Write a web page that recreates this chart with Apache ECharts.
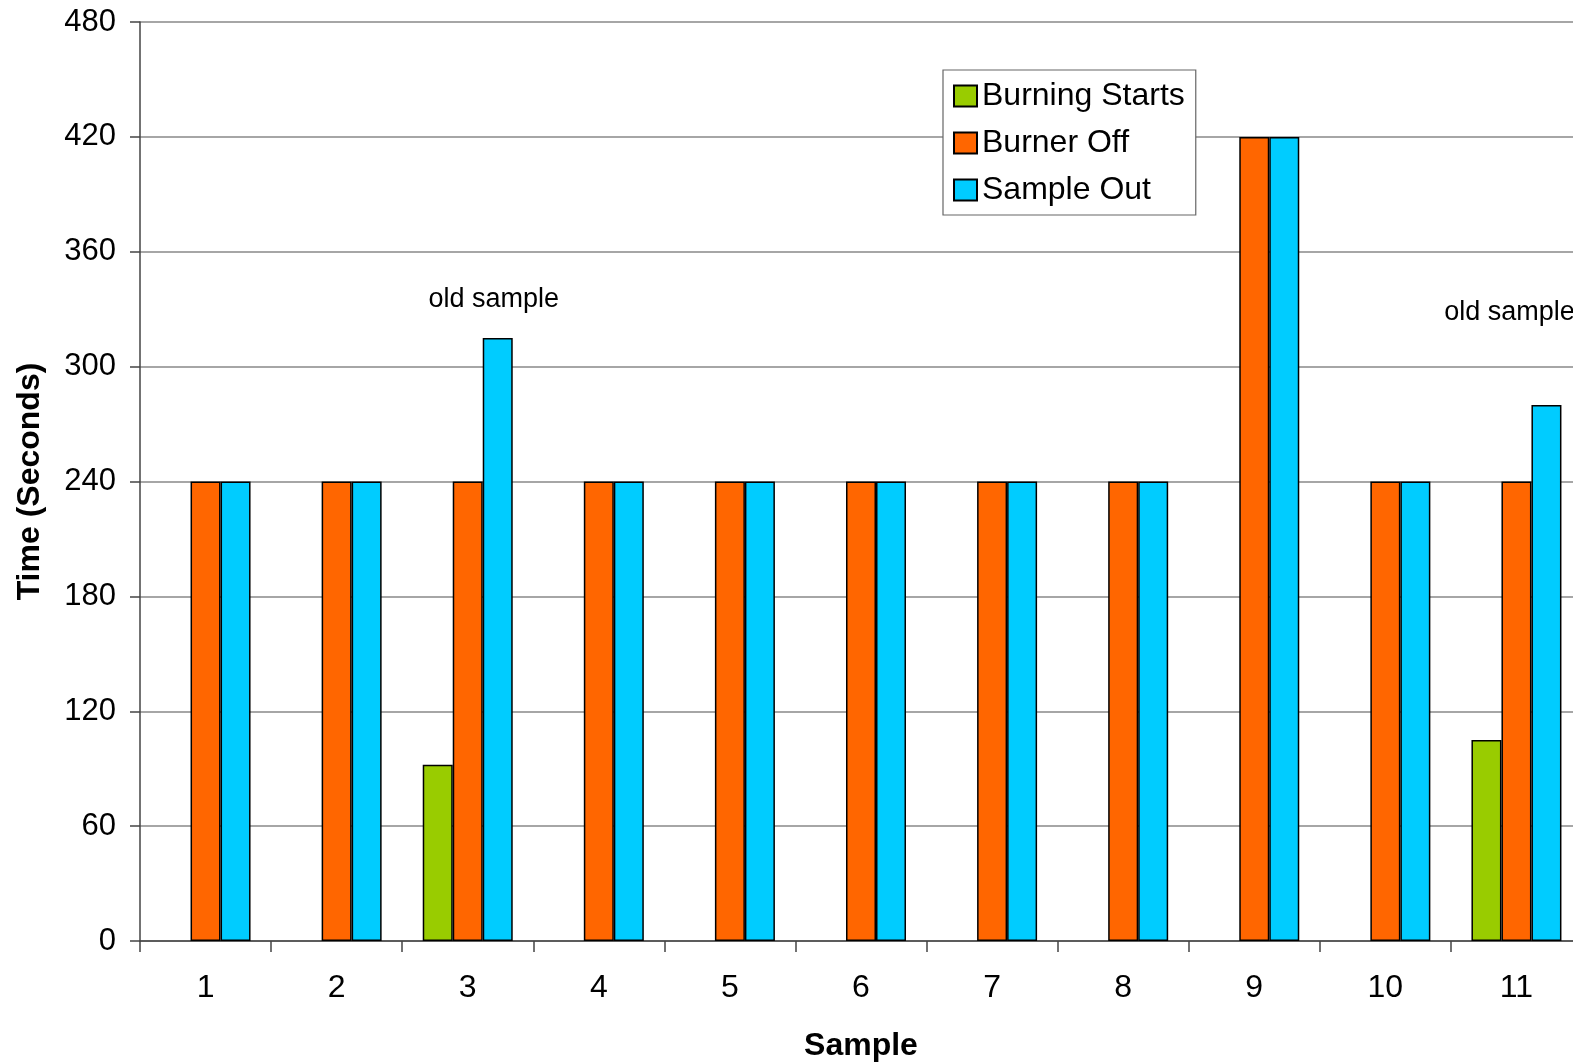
<!DOCTYPE html>
<html>
<head>
<meta charset="utf-8">
<script src="https://cdn.jsdelivr.net/npm/echarts@6/dist/echarts.min.js"></script>
<style>
  html, body { margin: 0; padding: 0; background: #fff; overflow: hidden; }
  /* the plot runs slightly past the right edge of the page */
  #chart { width: 1600px; height: 1064px; }
</style>
</head>
<body>
<div id="chart"></div>
<script>
// Sample numbers along the x axis
const samples = ['1', '2', '3', '4', '5', '6', '7', '8', '9', '10', '11'];
// Times in seconds; null where the event was not recorded
const burningStarts = [null, null, 92, null, null, null, null, null, null, null, 105];
const burnerOff = [240, 240, 240, 240, 240, 240, 240, 240, 420, 240, 240];
const sampleOut = [240, 240, 315, 240, 240, 240, 240, 240, 420, 240, 280];
// Annotated samples: [category, value at which the note sits, horizontal shift]
const notes = [['3', 335, -4], ['11', 328, -37]];

const FONT = '"Liberation Sans", Arial, sans-serif';
const chart = echarts.init(document.getElementById('chart'), null, { renderer: 'canvas' });

const barStyle = (color) => ({ color: color, borderColor: '#000', borderWidth: 1.5 });

chart.setOption({
  animation: false,
  backgroundColor: '#fff',
  textStyle: { fontFamily: FONT },
  grid: {
    left: 140, top: 22, width: 1442, height: 919,
    containLabel: false,
    outerBoundsMode: 'none'
  },
  legend: {
    orient: 'vertical',
    left: 943,
    top: 70,
    padding: [10, 11, 9, 10],
    backgroundColor: '#fff',
    borderColor: '#666',
    borderWidth: 1.2,
    itemWidth: 23,
    itemHeight: 21,
    itemGap: 15,
    icon: 'rect',
    textStyle: { fontFamily: FONT, fontSize: 32, color: '#000', lineHeight: 30 },
    data: ['Burning Starts', 'Burner Off', 'Sample Out']
  },
  xAxis: {
    type: 'category',
    data: samples,
    name: 'Sample',
    nameLocation: 'middle',
    nameGap: 89,
    nameTextStyle: { fontFamily: FONT, fontSize: 32, fontWeight: 'bold', color: '#000' },
    axisLine: { lineStyle: { color: '#444', width: 1.5 } },
    axisTick: { show: true, length: 11, lineStyle: { color: '#444', width: 1.5 } },
    axisLabel: { fontFamily: FONT, fontSize: 32, color: '#000', margin: 31 },
    splitLine: { show: false }
  },
  yAxis: {
    type: 'value',
    min: 0,
    max: 480,
    interval: 60,
    name: 'Time (Seconds)',
    nameLocation: 'middle',
    nameGap: 94,
    nameTextStyle: { fontFamily: FONT, fontSize: 32, fontWeight: 'bold', color: '#000' },
    axisLine: { show: true, lineStyle: { color: '#444', width: 1.5 } },
    axisTick: { show: true, length: 10, lineStyle: { color: '#444', width: 1.5 } },
    axisLabel: { fontFamily: FONT, fontSize: 31, color: '#000', margin: 24 },
    splitLine: { show: true, lineStyle: { color: '#888', width: 1.5 } }
  },
  series: [
    {
      name: 'Burning Starts', type: 'bar', data: burningStarts,
      barWidth: 30, barGap: '0%',
      itemStyle: barStyle('#99CC00')
    },
    {
      name: 'Burner Off', type: 'bar', data: burnerOff,
      barWidth: 30, barGap: '0%',
      itemStyle: barStyle('#FF6600')
    },
    {
      name: 'Sample Out', type: 'bar', data: sampleOut,
      barWidth: 30, barGap: '0%',
      itemStyle: barStyle('#00CCFF'),
      markPoint: {
        symbol: 'circle',
        symbolSize: 0,
        silent: true,
        label: {
          show: true,
          position: 'inside',
          formatter: 'old sample',
          fontFamily: FONT,
          fontSize: 27,
          color: '#000'
        },
        data: notes.map(n => ({
          coord: [n[0], n[1]],
          label: { offset: [n[2], 0] }
        }))
      }
    }
  ]
});
</script>
</body>
</html>
